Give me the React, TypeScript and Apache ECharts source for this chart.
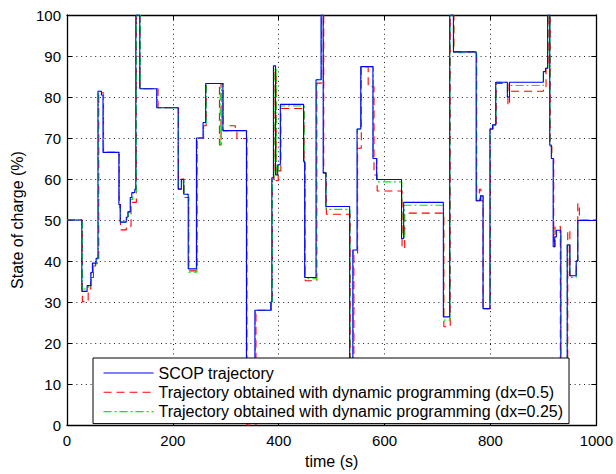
import React, { useEffect, useRef } from "react";
import * as echarts from "echarts";

// SCOP trajectory: change times (s) and new state-of-charge level (%)
const scopTimes = [0, 28, 38, 45, 48, 55, 58.5, 65, 68, 98, 100.5, 112, 115, 119.5, 122.5, 128, 130, 137.5, 169.5, 210, 216, 220.5, 229, 244.5, 257, 262, 294.5, 339, 355, 385, 387, 390, 394, 398, 403, 447, 449, 470.5, 480, 484, 489, 534, 540, 548, 555, 578, 585, 632, 636, 711, 723, 730, 773, 781, 786, 799, 804, 810, 832, 836, 900, 904, 908, 912, 915, 918.5, 921.5, 924.5, 933, 945, 950, 962, 965, 1000];
const scopSoc = [50, 32.6, 34, 37.2, 39.5, 40.7, 81.4, 80.5, 66.5, 53.8, 49.5, 50.7, 52, 55.5, 56.7, 57.5, 100, 82, 77.4, 57.5, 59.9, 56.3, 38.1, 70, 73.8, 83.3, 71.8, 0.8, 28, 30, 60.3, 87.6, 61, 63.5, 78.2, 64.3, 36, 84.2, 100, 61.5, 53.3, 10, 42.7, 72.2, 87.4, 65, 59.9, 45.5, 54.3, 26.4, 100, 91, 54.7, 55.9, 28.4, 72.2, 73.2, 83.6, 80, 83.6, 86.2, 87, 100, 68.3, 65, 43.5, 45.9, 47.5, 12, 43.9, 36.4, 40, 49.9, 49.9];

// Dynamic programming, dx = 0.5
const dp05Times = [0, 29, 40, 45, 50, 54, 60, 69, 90, 99, 101, 112, 121, 131, 138, 172, 210.5, 216.5, 221, 230, 246, 258, 263, 288, 291, 295, 306, 318, 321, 340, 357, 386, 388, 391, 395, 399, 404, 448, 450, 472, 481, 485, 490, 535, 542, 549, 556, 569, 580, 586, 633, 638, 712, 724, 731, 774, 779, 782, 786, 800, 805, 811, 833, 836, 900, 905, 909, 913, 916, 919.5, 922, 932, 946, 950, 962, 965, 968, 1000];
const dp05Soc = [50, 30.1, 33.2, 36, 38.8, 39.5, 81, 66.5, 66, 54, 47.6, 48.5, 54.3, 100, 82, 77.4, 57.6, 60, 55.5, 37.6, 70, 73, 83.3, 68.3, 83.3, 71.8, 73, 72, 69.9, 0, 28, 30, 60, 86, 59.6, 62, 77.2, 64, 35.2, 83.4, 100, 61.5, 51.4, 10, 41.6, 67.5, 87.4, 82.5, 61, 57.1, 43.1, 51.7, 24, 100, 91, 54.7, 57.5, 54.7, 28.4, 72.2, 73.2, 83.3, 78, 81.4, 82.5, 87, 100, 68, 65, 43.5, 48.5, 5, 47.5, 36.4, 40, 54, 50, 50];

// Dynamic programming, dx = 0.25
const dp025Times = [0, 29, 40, 46, 50, 56, 59, 69, 99, 101, 113, 116, 120, 124, 131, 138.5, 171, 210.5, 216.5, 221, 230, 245.5, 258, 263, 289.5, 292, 295, 339.5, 356, 385.5, 388, 391, 395, 399, 403.5, 448, 450, 471, 480.5, 484.5, 489.5, 534.5, 541, 548.5, 555.5, 578.5, 585.5, 632.5, 637, 711.5, 723.5, 730.5, 773.5, 781, 786.5, 799.5, 804.5, 810.5, 832, 836, 900, 904, 908.5, 912.5, 915.5, 919, 933, 945, 950, 962, 965, 1000];
const dp025Soc = [50, 33.2, 34, 37, 39, 40.5, 81.4, 66.5, 53, 49.5, 50.5, 52, 55, 56.5, 100, 82, 77.4, 57.5, 59.9, 56.3, 37.3, 70, 73.5, 83.3, 68.4, 83.3, 71.8, 0.5, 28, 30, 60, 87, 61, 63.5, 77.8, 64, 35.7, 84.2, 100, 61.5, 52.6, 10, 42.7, 72.2, 87.4, 65, 59.3, 45.3, 53.6, 25.6, 100, 90.8, 54.7, 55.9, 28.4, 72.2, 73.2, 83.6, 80, 82.8, 86, 87, 100, 68, 65, 47.1, 12, 44, 36, 40, 50, 50];

const xTicks = [0, 200, 400, 600, 800, 1000];
const seriesNames = [
  "SCOP trajectory",
  "Trajectory obtained with dynamic programming (dx=0.5)",
  "Trajectory obtained with dynamic programming (dx=0.25)",
];

const FONT = "'Liberation Sans', Arial, Helvetica, sans-serif";

function zip(ts: number[], vs: number[]) {
  return ts.map((t, i) => [t, vs[i]]);
}

export default function App() {
  const ref = useRef<HTMLDivElement>(null);
  useEffect(() => {
    if (!ref.current) return;
    const chart = echarts.init(ref.current, null, { renderer: "svg" });
    const gridLine = { show: true, lineStyle: { color: "#222", width: 1, type: [1, 3.7] as any } };
    const axisLine = { show: true, onZero: false, lineStyle: { color: "#000", width: 1.3 } };
    const tick = { show: true, inside: true, length: 5, lineStyle: { color: "#000", width: 1 } };
    const label = { color: "#000", fontSize: 15, fontFamily: FONT };
    const nameStyle = { color: "#000", fontSize: 16, fontFamily: FONT };
    chart.setOption({
      animation: false,
      backgroundColor: "#fff",
      grid: { left: 67, right: 18, top: 15, bottom: 42, containLabel: false },
      xAxis: [
        {
          type: "value", min: xTicks[0], max: xTicks[xTicks.length - 1], interval: 200, position: "bottom",
          axisLine, axisTick: tick, splitLine: gridLine,
          axisLabel: { ...label, margin: 8, formatter: (v: number) => String(v) },
          name: "time (s)", nameLocation: "middle", nameGap: 24,
          nameTextStyle: nameStyle,
        },
        {
          type: "value", min: 0, max: 1000, interval: 200, position: "top",
          axisLine, axisTick: tick, splitLine: { show: false }, axisLabel: { show: false },
        },
      ],
      yAxis: [
        {
          type: "value", min: 0, max: 100, interval: 10, position: "left",
          axisLine, axisTick: tick, splitLine: gridLine,
          axisLabel: { ...label, margin: 6 },
          name: "State of charge (%)", nameLocation: "middle", nameGap: 42,
          nameTextStyle: nameStyle,
        },
        {
          type: "value", min: 0, max: 100, interval: 10, position: "right",
          axisLine, axisTick: tick, splitLine: { show: false }, axisLabel: { show: false },
        },
      ],
      legend: {
        data: seriesNames,
        orient: "vertical",
        left: 93,
        top: 358,
        z: 10,
        padding: [7, 6, 4, 10],
        itemWidth: 50,
        itemHeight: 16,
        itemGap: 3.3,
        backgroundColor: "#fff",
        borderColor: "#000",
        borderWidth: 1,
        borderRadius: 0,
        itemStyle: { opacity: 0, color: "transparent", borderWidth: 0 },
        lineStyle: { width: 1.1 },
        textStyle: { color: "#000", fontSize: 16, fontFamily: FONT, lineHeight: 16 },
      },
      series: [
        {
          name: seriesNames[0], type: "line", step: "end", symbol: "none", z: 3,
          data: zip(scopTimes, scopSoc),
          lineStyle: { color: "#0000ff", width: 1.1, type: "solid" },
          itemStyle: { color: "#0000ff" },
        },
        {
          name: seriesNames[1], type: "line", step: "end", symbol: "none", z: 2,
          data: zip(dp05Times, dp05Soc),
          lineStyle: { color: "#ff0000", width: 1.1, type: [8, 5] },
          itemStyle: { color: "#ff0000" },
        },
        {
          name: seriesNames[2], type: "line", step: "end", symbol: "none", z: 2,
          data: zip(dp025Times, dp025Soc),
          lineStyle: { color: "#00ee00", width: 1.1, type: [8, 3, 2, 3] },
          itemStyle: { color: "#00ee00" },
        },
      ],
    });
    return () => chart.dispose();
  }, []);
  return (
    <div
      ref={ref}
      style={{ position: "absolute", left: 0, top: 0, width: 616, height: 474, background: "#fff" }}
    />
  );
}
